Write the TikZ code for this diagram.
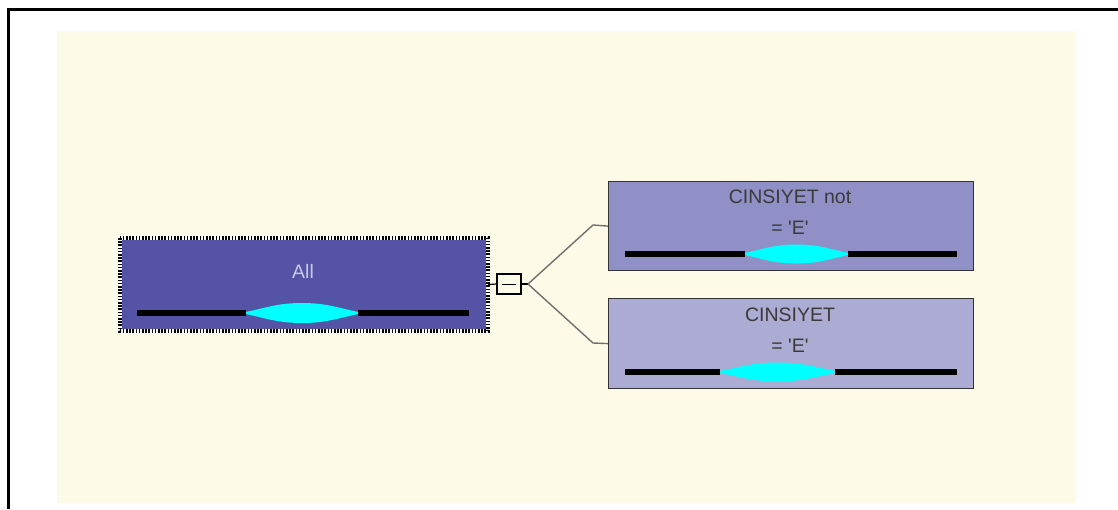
\documentclass[tikz,border=0pt]{standalone}
\usepackage{fontspec}
\newfontfamily\lbf{Liberation Sans}
\definecolor{cream}{HTML}{FEFAE8}
\definecolor{allc}{HTML}{5453A6}
\definecolor{topc}{HTML}{9090C6}
\definecolor{botc}{HTML}{ABABD4}
\definecolor{boxline}{HTML}{333333}
\definecolor{txt}{HTML}{3A3A3A}
\definecolor{alltxt}{HTML}{C9C9E8}
\definecolor{connc}{HTML}{707070}
\definecolor{cyanc}{HTML}{00FFFF}
\newcommand\mybar[6]{%
  \draw[bar] (#1,#5) -- (#2,#5);
  \draw[bar] (#3,#5) -- (#4,#5);
  \fill[cyanc] (#2,{#5-1})
    .. controls ({#2+0.2*(#3-#2)},{#5-0.3*#6}) and ({#2+0.3*(#3-#2)},{#5-0.5*#6}) .. ({0.5*(#2+#3)},{#5-0.5*#6})
    .. controls ({#3-0.3*(#3-#2)},{#5-0.5*#6}) and ({#3-0.2*(#3-#2)},{#5-0.3*#6}) .. (#3,{#5-1})
    -- (#3,{#5+1})
    .. controls ({#3-0.2*(#3-#2)},{#5+0.3*#6}) and ({#3-0.3*(#3-#2)},{#5+0.5*#6}) .. ({0.5*(#2+#3)},{#5+0.5*#6})
    .. controls ({#2+0.3*(#3-#2)},{#5+0.5*#6}) and ({#2+0.2*(#3-#2)},{#5+0.3*#6}) .. (#2,{#5+1}) -- cycle;
}
\begin{document}
\begin{tikzpicture}[x=1pt,y=-1pt,
  box/.style={draw=boxline, line width=1.2pt, inner sep=0pt, anchor=north west},
  lbl/.style={text=txt, font=\lbf\fontsize{19.5}{22}\selectfont, inner sep=0pt},
  bar/.style={line width=5.5pt, black},
  conn/.style={draw=connc, line width=1.4pt},
  link/.style={draw=black, line width=1.2pt}]
\useasboundingbox (0,0) rectangle (1118,509);
\fill[white] (0,0) rectangle (1118,509);
\fill[cream] (57,31) rectangle (1075,503);
\draw[black, line width=3pt] (8.5,509) -- (8.5,9) -- (1118,9);

% root node
\node[box, draw=none, fill=allc, minimum width=367pt, minimum height=92pt] (all) at (120,238) {};
\draw[white, line width=4pt] (all.north west) rectangle (all.south east);
\draw[black, line width=4pt, dash pattern=on 1.6pt off 1.6pt] (all.north west) rectangle (all.south east);
\node[lbl, text=alltxt] (alltext) at (303,271) {All};
\mybar{137}{246}{358}{469}{313}{20}

% child nodes
\node[box, fill=topc, minimum width=365pt, minimum height=89pt] (top) at (608,181) {};
\node[lbl] (toptext1) at (790,197) {CINSIYET not};
\node[lbl] (toptext2) at (790,228) {= 'E'};
\mybar{625}{745}{848}{957}{254}{19}

\node[box, fill=botc, minimum width=365pt, minimum height=90pt] (bot) at (608,298) {};
\node[lbl] (bottext1) at (790,315) {CINSIYET};
\node[lbl] (bottext2) at (790,346) {= 'E'};
\mybar{625}{720}{835}{957}{372}{19}

% collapse toggle and connectors
\node[draw=black, line width=1.2pt, fill=cream, minimum width=24pt, minimum height=20pt, inner sep=0pt] (col) at (509,284) {};
\draw[black, line width=1pt] ([xshift=-7pt]col.center) -- ([xshift=7pt]col.center);
\coordinate (j) at (528,284);
\coordinate (bt) at (593,225);
\coordinate (bb) at (593,343);
\draw[link] (all.east) -- (col.west);
\draw[link] (col.east) -- (j);
\draw[conn] (j) -- (bt) -- (top.west);
\draw[conn] (j) -- (bb) -- (bot.west);
\end{tikzpicture}
\end{document}
